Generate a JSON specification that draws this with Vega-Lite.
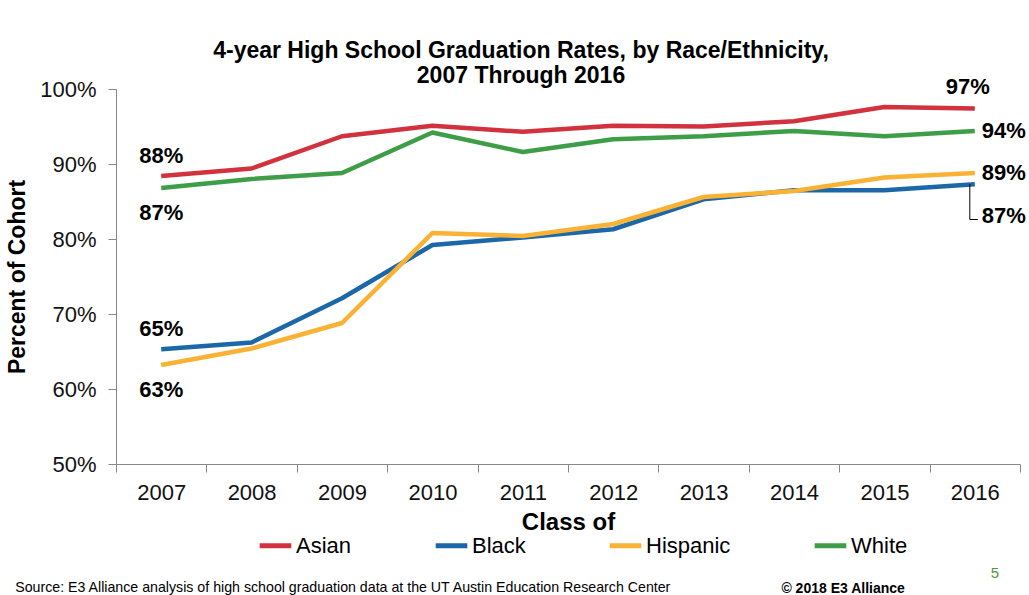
{
  "$schema": "https://vega.github.io/schema/vega-lite/v6.json",
  "width": 904,
  "height": 375,
  "padding": {"left": 6, "top": 39, "right": 0, "bottom": 0},
  "background": "white",
  "title": {
    "text": ["4-year High School Graduation Rates, by Race/Ethnicity,", "2007 Through 2016"],
    "font": "Liberation Sans",
    "fontSize": 23,
    "fontWeight": "bold",
    "color": "#000000",
    "anchor": "middle",
    "dx": -47,
    "offset": -12,
    "lineHeight": 25
  },
  "datasets": {
    "rates": [
      {"year": 2007, "group": "Asian", "rate": 0.884},
      {"year": 2008, "group": "Asian", "rate": 0.894},
      {"year": 2009, "group": "Asian", "rate": 0.937},
      {"year": 2010, "group": "Asian", "rate": 0.951},
      {"year": 2011, "group": "Asian", "rate": 0.943},
      {"year": 2012, "group": "Asian", "rate": 0.951},
      {"year": 2013, "group": "Asian", "rate": 0.950},
      {"year": 2014, "group": "Asian", "rate": 0.957},
      {"year": 2015, "group": "Asian", "rate": 0.976},
      {"year": 2016, "group": "Asian", "rate": 0.974},
      {"year": 2007, "group": "Black", "rate": 0.653},
      {"year": 2008, "group": "Black", "rate": 0.662},
      {"year": 2009, "group": "Black", "rate": 0.721},
      {"year": 2010, "group": "Black", "rate": 0.792},
      {"year": 2011, "group": "Black", "rate": 0.802},
      {"year": 2012, "group": "Black", "rate": 0.813},
      {"year": 2013, "group": "Black", "rate": 0.853},
      {"year": 2014, "group": "Black", "rate": 0.865},
      {"year": 2015, "group": "Black", "rate": 0.865},
      {"year": 2016, "group": "Black", "rate": 0.873},
      {"year": 2007, "group": "Hispanic", "rate": 0.632},
      {"year": 2008, "group": "Hispanic", "rate": 0.654},
      {"year": 2009, "group": "Hispanic", "rate": 0.688},
      {"year": 2010, "group": "Hispanic", "rate": 0.808},
      {"year": 2011, "group": "Hispanic", "rate": 0.804},
      {"year": 2012, "group": "Hispanic", "rate": 0.820},
      {"year": 2013, "group": "Hispanic", "rate": 0.856},
      {"year": 2014, "group": "Hispanic", "rate": 0.864},
      {"year": 2015, "group": "Hispanic", "rate": 0.882},
      {"year": 2016, "group": "Hispanic", "rate": 0.888},
      {"year": 2007, "group": "White", "rate": 0.868},
      {"year": 2008, "group": "White", "rate": 0.880},
      {"year": 2009, "group": "White", "rate": 0.888},
      {"year": 2010, "group": "White", "rate": 0.942},
      {"year": 2011, "group": "White", "rate": 0.916},
      {"year": 2012, "group": "White", "rate": 0.933},
      {"year": 2013, "group": "White", "rate": 0.937},
      {"year": 2014, "group": "White", "rate": 0.944},
      {"year": 2015, "group": "White", "rate": 0.937},
      {"year": 2016, "group": "White", "rate": 0.944}
    ],
    "labels": [
      {"year": 2007, "group": "Asian", "rate": 0.884, "label": "88%"},
      {"year": 2007, "group": "White", "rate": 0.868, "label": "87%"},
      {"year": 2007, "group": "Black", "rate": 0.653, "label": "65%"},
      {"year": 2007, "group": "Hispanic", "rate": 0.632, "label": "63%"},
      {"year": 2016, "group": "Asian", "rate": 0.974, "label": "97%"},
      {"year": 2016, "group": "White", "rate": 0.944, "label": "94%"},
      {"year": 2016, "group": "Hispanic", "rate": 0.888, "label": "89%"},
      {"year": 2016, "group": "Black", "rate": 0.873, "label": "87%"}
    ]
  },
  "encoding": {
    "x": {
      "field": "year",
      "type": "ordinal",
      "bandPosition": 0.5,
      "scale": {"type": "band", "paddingInner": 0, "paddingOuter": 0},
      "axis": {
        "title": "Class of",
        "titleFont": "Liberation Sans",
        "titleFontSize": 24,
        "titleFontWeight": "bold",
        "titleColor": "#000000",
        "titlePadding": 7,
        "labelFont": "Liberation Sans",
        "labelFontSize": 22,
        "labelColor": "#111111",
        "labelAngle": 0,
        "labelPadding": 10,
        "tickBand": "extent",
        "tickSize": 8,
        "tickColor": "#888888",
        "domainColor": "#888888",
        "grid": false
      }
    },
    "y": {
      "field": "rate",
      "type": "quantitative",
      "scale": {"domain": [0.5, 1]},
      "axis": {
        "values": [0.5, 0.6, 0.7, 0.8, 0.9, 1.0],
        "format": ".0%",
        "title": "Percent of Cohort",
        "titleFont": "Liberation Sans",
        "titleFontSize": 23,
        "titleFontWeight": "bold",
        "titleColor": "#000000",
        "titlePadding": 10,
        "labelFont": "Liberation Sans",
        "labelFontSize": 22,
        "labelColor": "#111111",
        "labelPadding": 12,
        "tickSize": 8,
        "tickColor": "#888888",
        "domainColor": "#888888",
        "grid": false
      }
    }
  },
  "layer": [
    {
      "data": {"name": "rates"},
      "mark": {"type": "line", "strokeWidth": 4.5, "strokeJoin": "round"},
      "encoding": {
        "color": {
          "field": "group",
          "type": "nominal",
          "scale": {
            "domain": ["Asian", "Black", "Hispanic", "White"],
            "range": ["#D2323D", "#1C67A8", "#F9B233", "#3D9E47"]
          },
          "legend": {
            "title": null,
            "orient": "none",
            "legendX": 141,
            "legendY": 438,
            "direction": "horizontal",
            "symbolType": "stroke",
            "symbolSize": 1000,
            "symbolStrokeWidth": 5,
            "labelFont": "Liberation Sans",
            "labelFontSize": 22,
            "labelColor": "#000000",
            "labelOffset": 2,
            "columnPadding": 73,
            "padding": 0
          }
        }
      }
    },
    {
      "data": {"name": "labels"},
      "transform": [{"filter": "datum.year == 2007 && (datum.group == 'Asian' || datum.group == 'Black')"}],
      "mark": {"type": "text", "font": "Liberation Sans", "fontSize": 22, "fontWeight": "bold", "baseline": "middle", "dy": -20, "color": "#000000"},
      "encoding": {"text": {"field": "label"}}
    },
    {
      "data": {"name": "labels"},
      "transform": [{"filter": "datum.year == 2007 && (datum.group == 'White' || datum.group == 'Hispanic')"}],
      "mark": {"type": "text", "font": "Liberation Sans", "fontSize": 22, "fontWeight": "bold", "baseline": "middle", "dy": 25, "color": "#000000"},
      "encoding": {"text": {"field": "label"}}
    },
    {
      "data": {"name": "labels"},
      "transform": [{"filter": "datum.year == 2016 && datum.group == 'Asian'"}],
      "mark": {"type": "text", "font": "Liberation Sans", "fontSize": 22, "fontWeight": "bold", "baseline": "middle", "dy": -22, "dx": -7, "color": "#000000"},
      "encoding": {"text": {"field": "label"}}
    },
    {
      "data": {"name": "labels"},
      "transform": [{"filter": "datum.year == 2016 && (datum.group == 'White' || datum.group == 'Hispanic')"}],
      "mark": {"type": "text", "font": "Liberation Sans", "fontSize": 22, "fontWeight": "bold", "baseline": "middle", "align": "left", "dx": 7, "color": "#000000"},
      "encoding": {"text": {"field": "label"}}
    },
    {
      "data": {"name": "labels"},
      "transform": [{"filter": "datum.year == 2016 && datum.group == 'Black'"}],
      "mark": {"type": "text", "font": "Liberation Sans", "fontSize": 22, "fontWeight": "bold", "baseline": "middle", "align": "left", "dx": 7, "dy": 32, "color": "#000000"},
      "encoding": {"text": {"field": "label"}}
    },
    {
      "data": {"values": [{"year": 2016, "from": 0.873, "to": 0.826}]},
      "mark": {"type": "rule", "color": "#000000", "strokeWidth": 1, "xOffset": -5},
      "encoding": {
        "y": {"field": "from", "type": "quantitative"},
        "y2": {"field": "to"}
      }
    },
    {
      "data": {"values": [{"year": 2016, "at": 0.826}]},
      "mark": {"type": "rule", "color": "#000000", "strokeWidth": 1, "xOffset": -5, "x2Offset": 3},
      "encoding": {
        "x2": {"field": "year"},
        "y": {"field": "at", "type": "quantitative"}
      }
    },
    {
      "data": {"values": [{"year": 2007, "pos": 0.335, "note": "Source: E3 Alliance analysis of high school graduation  data at the UT  Austin Education Research Center"}]},
      "mark": {"type": "text", "font": "Liberation Sans", "fontSize": 14.2, "align": "left", "baseline": "middle", "dx": -146, "color": "#000000"},
      "encoding": {
        "y": {"field": "pos", "type": "quantitative"},
        "text": {"field": "note"}
      }
    },
    {
      "data": {"values": [{"year": 2015, "pos": 0.334, "note": "© 2018 E3 Alliance"}]},
      "mark": {"type": "text", "font": "Liberation Sans", "fontSize": 14, "fontWeight": "bold", "align": "left", "baseline": "middle", "dx": -103, "color": "#000000"},
      "encoding": {
        "y": {"field": "pos", "type": "quantitative"},
        "text": {"field": "note"}
      }
    },
    {
      "data": {"values": [{"year": 2016, "pos": 0.355, "note": "5"}]},
      "mark": {"type": "text", "font": "Liberation Sans", "fontSize": 15, "align": "center", "baseline": "middle", "dx": 20, "color": "#4E9A3A"},
      "encoding": {
        "y": {"field": "pos", "type": "quantitative"},
        "text": {"field": "note"}
      }
    }
  ],
  "config": {
    "view": {"stroke": null},
    "font": "Liberation Sans"
  }
}
